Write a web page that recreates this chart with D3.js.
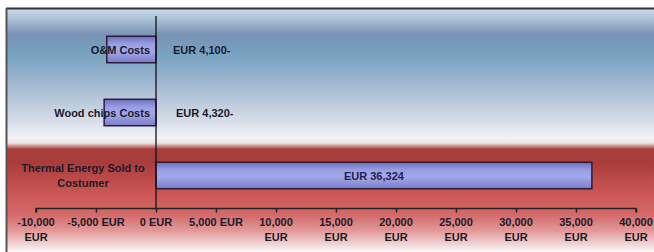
<!DOCTYPE html>
<html><head><meta charset="utf-8">
<script src="https://cdn.jsdelivr.net/npm/d3@7"></script>
<style>
html,body{margin:0;padding:0;background:#fff;}
svg{display:block;}
text{font-family:"Liberation Sans",Arial,sans-serif;font-weight:bold;fill:#1c1a2a;}
</style></head><body>
<svg id="chart" width="654" height="252"></svg>
<script>
const categories = ["O&M Costs", "Wood chips Costs", "Thermal Energy Sold to Costumer"];
const categoryLines = [["O&M Costs"], ["Wood chips Costs"], ["Thermal Energy Sold to", "Costumer"]];
const values = [-4100, -4320, 36324];
const valueLabels = ["EUR 4,100-", "EUR 4,320-", "EUR 36,324"];
const tickValues = [-10000, -5000, 0, 5000, 10000, 15000, 20000, 25000, 30000, 35000, 40000];
const tickLabels = [["-10,000","EUR"],["-5,000 EUR"],["0 EUR"],["5,000 EUR"],["10,000","EUR"],["15,000","EUR"],["20,000","EUR"],["25,000","EUR"],["30,000","EUR"],["35,000","EUR"],["40,000","EUR"]];

const svg = d3.select("#chart");
const defs = svg.append("defs");

const bg = defs.append("linearGradient").attr("id","bg").attr("x1",0).attr("y1",0).attr("x2",0).attr("y2",1);
const H0 = 9, H1 = 252;
[[10,"#c8d8e6"],[20,"#a8bfd4"],[35,"#7892b6"],[55,"#78a4c2"],[75,"#94b0cc"],[100,"#b8c8da"],[125,"#dde2ec"],[138,"#f2f2f6"],[143,"#efe2e2"],[149,"#a6403c"],[162,"#a83c3a"],[190,"#c85452"],[215,"#d46a6a"],[232,"#e49c9c"],[245,"#f2d8d8"],[252,"#fafafa"]]
 .forEach(([y,c])=>bg.append("stop").attr("offset",(y-H0)/(H1-H0)).attr("stop-color",c));

const bar = defs.append("linearGradient").attr("id","bar").attr("x1",0).attr("y1",0).attr("x2",0).attr("y2",1);
[[0,"#6e70b8"],[0.3,"#9a9ee4"],[0.55,"#a4a8ea"],[1,"#7a7ec8"]].forEach(([o,c])=>bar.append("stop").attr("offset",o).attr("stop-color",c));

svg.append("rect").attr("x",6).attr("y",H0).attr("width",648).attr("height",H1-H0).attr("fill","url(#bg)");
svg.append("line").attr("x1",6).attr("x2",654).attr("y1",8.5).attr("y2",8.5).attr("stroke","#333").attr("stroke-width",2);
svg.append("line").attr("x1",6.5).attr("x2",6.5).attr("y1",8).attr("y2",252).attr("stroke","#555").attr("stroke-width",2);

const x = d3.scaleLinear().domain([-10000, 40000]).range([36, 636]);
const y = d3.scaleBand().domain(categories).range([18, 207]).paddingInner(0.58).paddingOuter(0.29);

const FS = 11;

// bars
svg.selectAll("rect.bar").data(values).join("rect").attr("class","bar")
  .attr("x",(d)=>x(Math.min(0,d)))
  .attr("width",(d)=>Math.abs(x(d)-x(0)))
  .attr("y",(d,i)=>y(categories[i]))
  .attr("height",y.bandwidth())
  .attr("fill","url(#bar)").attr("stroke","#2b1d3a").attr("stroke-width",1.5);

// zero line
svg.append("line").attr("x1",x(0)).attr("x2",x(0)).attr("y1",16).attr("y2",209).attr("stroke","#111").attr("stroke-width",1.3);

// x axis
const axisY = 208.5;
const axis = d3.axisBottom(x).tickValues(tickValues).tickSize(4).tickFormat("");
const ag = svg.append("g").attr("transform",`translate(0,${axisY})`).call(axis);
ag.select(".domain").attr("stroke","#222").attr("stroke-width",1.5).attr("d",`M${x(-10000)},4V0H${x(40000)}V4`);
ag.selectAll(".tick line").attr("stroke","#222").attr("stroke-width",1.5);
tickValues.forEach((v,i)=>{
  const t = svg.append("text").attr("x",x(v)).attr("y",226).attr("text-anchor","middle").attr("font-size",FS);
  tickLabels[i].forEach((s,j)=>t.append("tspan").attr("x",x(v)).attr("dy",j?15:0).text(s));
});

// category labels
categoryLines.forEach((lines,i)=>{
  const cy = y(categories[i]) + y.bandwidth()/2;
  if(lines.length===1){
    svg.append("text").attr("x",150).attr("y",cy+4).attr("text-anchor","end").attr("font-size",FS).text(lines[0]);
  } else {
    const t = svg.append("text").attr("text-anchor","middle").attr("font-size",FS);
    lines.forEach((s,j)=>t.append("tspan").attr("x",83).attr("y",cy-3.5+j*15).text(s));
  }
});

// value labels
const valX = [173, 176];
values.forEach((v,i)=>{
  const cy = y(categories[i]) + y.bandwidth()/2;
  if(v<0){
    svg.append("text").attr("x",valX[i]).attr("y",cy+4).attr("font-size",FS).text(valueLabels[i]);
  } else {
    svg.append("text").attr("x",(x(0)+x(v))/2).attr("y",cy+4).attr("text-anchor","middle").attr("font-size",FS).style("fill","#22224a").text(valueLabels[i]);
  }
});
</script>
</body></html>
